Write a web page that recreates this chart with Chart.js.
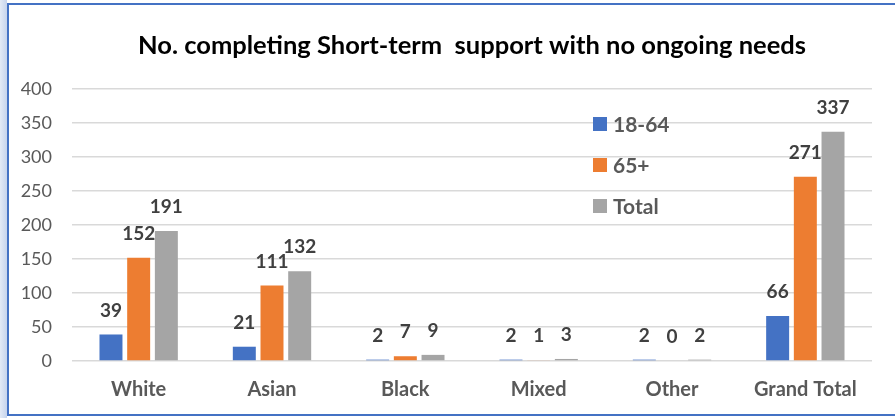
<!DOCTYPE html>
<html>
<head>
<meta charset="utf-8">
<script src="https://cdn.jsdelivr.net/npm/chart.js@4/dist/chart.umd.min.js"></script>
<style>
  html, body { margin: 0; padding: 0; background: #fff; }
  body { width: 895px; height: 418px; position: relative; overflow: hidden; }
  .strip { position: absolute; left: 0; top: 0; width: 7px; height: 418px;
           background: linear-gradient(to right, #e3eaf6, #c6d4ed); }
  .frame { position: absolute; left: 7px; top: 3px; width: 900px; height: 413px;
           border: 2px solid #4472C4; box-sizing: border-box; }
  .wrap { position: absolute; left: 0; top: 0; width: 895px; height: 418px; }
</style>
</head>
<body>
<div class="strip"></div>
<div class="frame"></div>
<div class="wrap"><canvas id="chart"></canvas></div>
<script>
// ── Data ─────────────────────────────────────────────
const CATEGORIES = ['White', 'Asian', 'Black', 'Mixed', 'Other', 'Grand Total'];
const AGE_18_64  = [39, 21, 2, 2, 2, 66];
const AGE_65     = [152, 111, 7, 1, 0, 271];
const TOTAL      = [191, 132, 9, 3, 2, 337];
const Y_TICKS    = [0, 50, 100, 150, 200, 250, 300, 350, 400];
const TITLE      = 'No. completing Short-term  support with no ongoing needs';

const COLORS = { young: '#4472C4', old: '#ED7D31', total: '#A5A5A5' };
const FONT = 'Lato';

// ── Plugins ──────────────────────────────────────────
const valueLabels = {
  id: 'valueLabels',
  afterDatasetsDraw(chart) {
    const ctx = chart.ctx;
    ctx.save();
    ctx.font = `bold 19px ${FONT}`;
    ctx.fillStyle = '#404040';
    ctx.textAlign = 'center';
    ctx.textBaseline = 'middle';
    chart.data.datasets.forEach((ds, i) => {
      chart.getDatasetMeta(i).data.forEach((bar, j) => {
        ctx.fillText(String(ds.data[j]), bar.x, bar.y - 24);
      });
    });
    ctx.restore();
  }
};

const sideLegend = {
  id: 'sideLegend',
  afterDraw(chart) {
    const ctx = chart.ctx;
    ctx.save();
    ctx.font = `bold 21px ${FONT}`;
    ctx.textBaseline = 'middle';
    chart.data.datasets.forEach((ds, i) => {
      const y = 124 + i * 41;
      ctx.fillStyle = ds.backgroundColor;
      ctx.fillRect(593, y - 7, 14, 14);
      ctx.fillStyle = '#595959';
      ctx.fillText(ds.label, 613, y + 1);
    });
    ctx.restore();
  }
};

// ── Chart ────────────────────────────────────────────
Chart.defaults.font.family = FONT;

new Chart(document.getElementById('chart').getContext('2d'), {
  type: 'bar',
  data: {
    labels: CATEGORIES,
    datasets: [
      { label: '18-64', data: AGE_18_64, backgroundColor: COLORS.young },
      { label: '65+',   data: AGE_65,    backgroundColor: COLORS.old },
      { label: 'Total', data: TOTAL,     backgroundColor: COLORS.total },
    ]
  },
  options: {
    responsive: true,
    maintainAspectRatio: false,
    animation: false,
    categoryPercentage: 0.623,
    barPercentage: 0.83,
    layout: { padding: { left: 0, right: 23, top: 0, bottom: 0 } },
    plugins: {
      legend: { display: false },
      tooltip: { enabled: false },
      title: {
        display: true,
        fullSize: false,   // centre over the plot area, like the original
        text: TITLE,
        color: '#000',
        font: { size: 25.5, weight: 'bold', lineHeight: 1.2 },
        padding: { top: 30, bottom: 28.4 }
      }
    },
    scales: {
      x: {
        grid: { display: false, drawTicks: false },
        border: { display: false },
        ticks: { color: '#595959', font: { size: 20, weight: 'bold' }, padding: 17 },
        afterFit: s => { s.height = 57; }
      },
      y: {
        min: 0, max: 400,
        afterBuildTicks: s => { s.ticks = Y_TICKS.map(v => ({ value: v })); },
        grid: { color: '#D9D9D9', lineWidth: 1.5, drawTicks: false },
        border: { display: false },
        ticks: { color: '#595959', font: { size: 18 }, padding: 20 },
        afterFit: s => { s.width = 72; }
      }
    }
  },
  plugins: [valueLabels, sideLegend]
});
</script>
</body>
</html>
